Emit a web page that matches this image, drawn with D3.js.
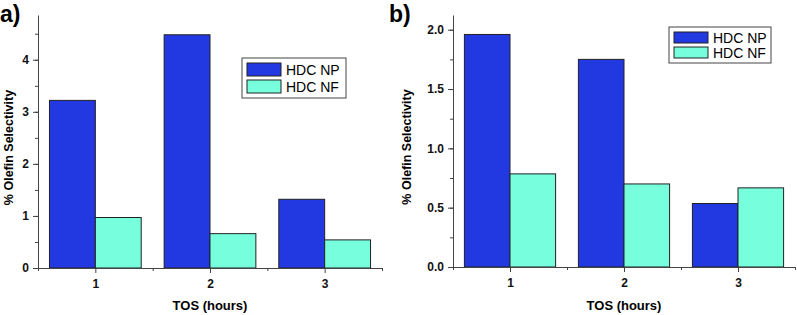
<!DOCTYPE html>
<html>
<head>
<meta charset="utf-8">
<script src="https://cdn.jsdelivr.net/npm/d3@7"></script>
<style>
    body { margin: 0; background: #fff; }
    svg  { display: block; font-family: "Liberation Sans", Arial, sans-serif; }
    .axis path, .axis line { stroke: #444; }
    .axis text { font-weight: bold; font-size: 12px; fill: #111; }
</style>
</head>
<body>
<svg id="chart" width="797" height="315"></svg>
<script>
'use strict';

/*
    Data
*/

const HOURS        = [1, 2, 3];
const SERIES_NAMES = ['HDC NP', 'HDC NF'];

// Panel a)
const NP_A = [3.22, 4.48, 1.32];
const NF_A = [0.97, 0.66, 0.54];

// Panel b)
const NP_B = [1.96, 1.75, 0.535];
const NF_B = [0.785, 0.70, 0.667];

/*
    Constants
*/

const SVG    = d3.select('#chart');
const COLORS = ['#2238e0', '#77ffdd'];
const BAR_W  = 0.4;   // in x units

const PANELS = [
    {
        label  : 'a)', labelX : 0, 
        left   : 38,  right : 382, top : 15, bottom : 268,
        yMax   : 4.86, yMajor : 1, yFormat : d3.format('d'),
        series : [NP_A, NF_A],
        legend : { x : 242, y : 58, w : 104, h : 40 },
        yLabelX : 13
    },
    {
        label  : 'b)', labelX : 389,
        left   : 453, right : 795, top : 15, bottom : 267,
        yMax   : 2.124, yMajor : 0.5, yFormat : d3.format('.1f'),
        series : [NP_B, NF_B],
        legend : { x : 669, y : 27, w : 102, h : 36 },
        yLabelX : 411
    }
];

/*
    Functions
*/

function drawPanel(p) {

    const x = d3.scaleLinear().domain([0.5, 3.5]).range([p.left, p.right]);
    const y = d3.scaleLinear().domain([0, p.yMax]).range([p.bottom, p.top]);

    // Bars
    p.series.forEach((values, s) => {
        SVG.append('g')
           .selectAll('rect')
           .data(values)
           .join('rect')
             .attr('x', (d, i) => x(HOURS[i] + (s - 1) * BAR_W))
             .attr('width', x(BAR_W) - x(0))
             .attr('y', d => y(d))
             .attr('height', d => y(0) - y(d))
             .attr('fill', COLORS[s])
             .attr('stroke', '#222')
             .attr('stroke-width', 1);
    });

    // Minor ticks
    const yMinor = d3.range(0, p.yMax, p.yMajor / 2);
    SVG.append('g')
       .attr('class', 'axis')
       .attr('transform', `translate(${p.left},0)`)
       .call(d3.axisLeft(y).tickValues(yMinor).tickSize(3).tickFormat(''))
       .call(g => g.select('.domain').remove());

    SVG.append('g')
       .attr('class', 'axis')
       .attr('transform', `translate(0,${p.bottom})`)
       .call(d3.axisBottom(x).tickValues([0.5, 1.5, 2.5, 3.5]).tickSize(3).tickFormat(''))
       .call(g => g.select('.domain').remove());

    // Major axes
    const yMajor = d3.range(0, p.yMax, p.yMajor);
    SVG.append('g')
       .attr('class', 'axis')
       .attr('transform', `translate(${p.left},0)`)
       .call(d3.axisLeft(y).tickValues(yMajor).tickSize(5).tickSizeOuter(0)
                 .tickPadding(4).tickFormat(p.yFormat));

    SVG.append('g')
       .attr('class', 'axis')
       .attr('transform', `translate(0,${p.bottom})`)
       .call(d3.axisBottom(x).tickValues(HOURS).tickSize(5).tickSizeOuter(0)
                 .tickPadding(6).tickFormat(d3.format('d')));

    // Axis titles
    SVG.append('text')
       .attr('x', (x(0.5) + x(3.5)) / 2)
       .attr('y', 310)
       .attr('text-anchor', 'middle')
       .style('font-weight', 'bold')
       .style('font-size', '13px')
       .text('TOS (hours)');

    SVG.append('text')
       .attr('transform', `translate(${p.yLabelX},${(p.top + p.bottom) / 2 + 6}) rotate(-90)`)
       .attr('text-anchor', 'middle')
       .style('font-weight', 'bold')
       .style('font-size', '12.5px')
       .text('% Olefin Selectivity');

    // Panel label
    SVG.append('text')
       .attr('x', p.labelX)
       .attr('y', 22)
       .style('font-weight', 'bold')
       .style('font-size', '23px')
       .text(p.label);

    // Legend
    const L = p.legend;
    const LEGEND = SVG.append('g').attr('transform', `translate(${L.x},${L.y})`);
    LEGEND.append('rect')
          .attr('width', L.w).attr('height', L.h)
          .attr('fill', '#fff').attr('stroke', '#444');
    const rowH = (L.h - 8) / 2;
    SERIES_NAMES.forEach((name, s) => {
        const ROW = LEGEND.append('g')
                          .attr('transform', `translate(5,${5 + s * (rowH + 1)})`);
        ROW.append('rect')
           .attr('width', 34).attr('height', rowH - 3)
           .attr('fill', COLORS[s]).attr('stroke', '#222');
        ROW.append('text')
           .attr('x', 39).attr('y', rowH / 2 + 3.5)
           .style('font-size', '14px')
           .text(name);
    });
}

PANELS.forEach(drawPanel);
</script>
</body>
</html>
